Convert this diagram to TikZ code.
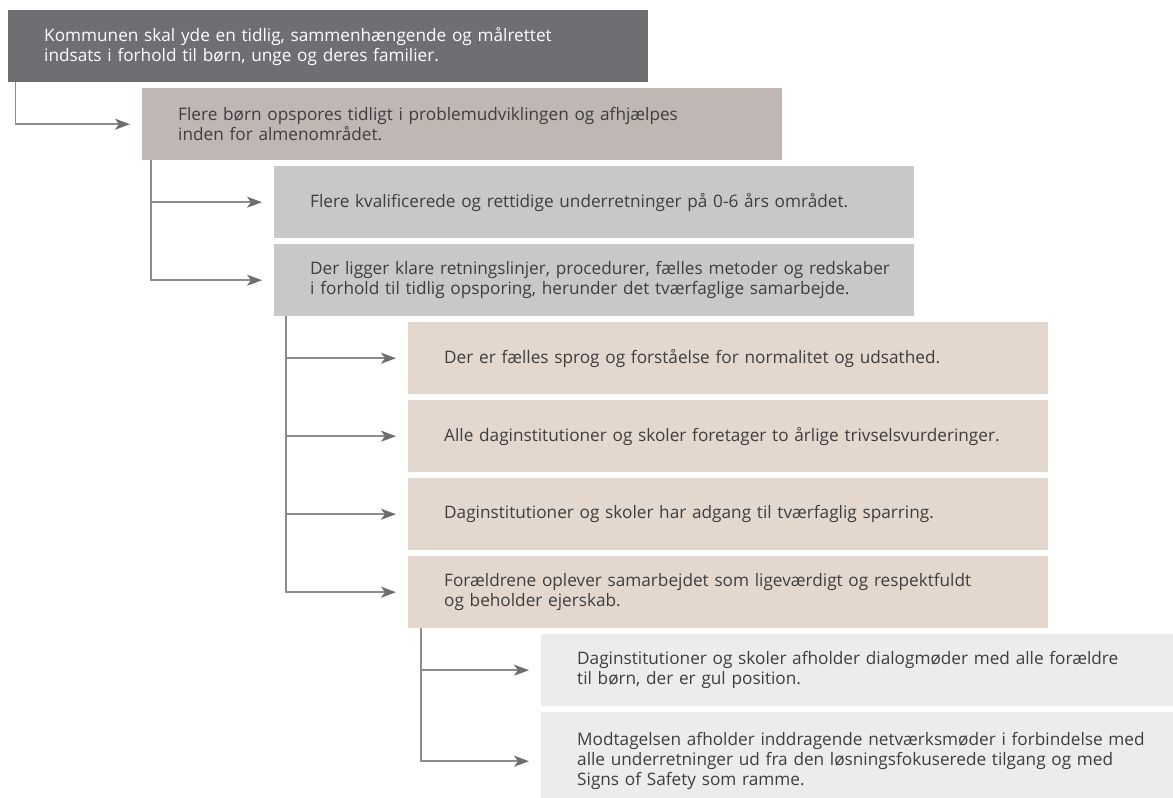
\documentclass[tikz,border=0pt]{standalone}
\usepackage{fontspec}
\setmainfont{Open Sans}
\usetikzlibrary{arrows.meta}

\definecolor{boxdark}{RGB}{111,110,115}
\definecolor{boxrose}{RGB}{192,182,179}
\definecolor{boxgray}{RGB}{200,200,202}
\definecolor{boxsand}{RGB}{227,215,206}
\definecolor{boxlight}{RGB}{236,236,238}
\definecolor{linegray}{RGB}{140,140,143}
\definecolor{tipgray}{RGB}{110,110,114}
\definecolor{textgray}{RGB}{62,62,64}

\tikzset{
  goalbox/.style={anchor=north west, minimum width=640pt, minimum height=72pt,
    text width=640pt, inner xsep=0pt, inner ysep=0pt, align=left,
    execute at begin node={\leftskip=36pt},
    font=\fontsize{17.2}{20}\selectfont, text=textgray},
  conn/.style={draw=linegray, line width=1.8pt,
    -{Stealth[length=15pt,width=11pt,inset=4pt,color=tipgray]}, shorten >=12pt}
}

\begin{document}
\begin{tikzpicture}[x=1pt,y=-1pt]
  \useasboundingbox (0,0) rectangle (1173,798);

  % overall aim
  \node[goalbox,fill=boxdark,text=white] (aim) at (8,10)
    {Kommunen skal yde en tidlig, sammenhængende og målrettet\\
     indsats i forhold til børn, unge og deres familier.};

  % level 1
  \node[goalbox,fill=boxrose] (early) at (142,88)
    {Flere børn opspores tidligt i problemudviklingen og afhjælpes\\
     inden for almenområdet.};

  % level 2
  \node[goalbox,fill=boxgray] (report) at (274,166)
    {Flere kvalificerede og rettidige underretninger på 0-6 års området.};
  \node[goalbox,fill=boxgray] (guide) at (274,244)
    {Der ligger klare retningslinjer, procedurer, fælles metoder og redskaber\\
     i forhold til tidlig opsporing, herunder det tværfaglige samarbejde.};

  % level 3
  \node[goalbox,fill=boxsand] (lang) at (408,322)
    {Der er fælles sprog og forståelse for normalitet og udsathed.};
  \node[goalbox,fill=boxsand] (wellb) at (408,400)
    {Alle daginstitutioner og skoler foretager to årlige trivselsvurderinger.};
  \node[goalbox,fill=boxsand] (spar) at (408,478)
    {Daginstitutioner og skoler har adgang til tværfaglig sparring.};
  \node[goalbox,fill=boxsand] (parent) at (408,556)
    {Forældrene oplever samarbejdet som ligeværdigt og respektfuldt\\
     og beholder ejerskab.};

  % level 4
  \node[goalbox,fill=boxlight] (dialog) at (541,634)
    {Daginstitutioner og skoler afholder dialogmøder med alle forældre\\
     til børn, der er gul position.};
  \node[goalbox,fill=boxlight,minimum height=98pt] (netw) at (541,712)
    {Modtagelsen afholder inddragende netværksmøder i forbindelse med\\
     alle underretninger ud fra den løsningsfokuserede tilgang og med\\
     Signs of Safety som ramme.};

  % connectors
  \draw[conn] ([xshift=7.5pt]aim.south west) |- (early.west);

  \draw[conn] ([xshift=9pt]early.south west) |- (report.west);
  \draw[conn] ([xshift=9pt]early.south west) |- (guide.west);

  \foreach \goal in {lang,wellb,spar,parent}
  {
       \draw[conn] ([xshift=12pt]guide.south west) |- (\goal.west);
  }

  \draw[conn] ([xshift=13pt]parent.south west) |- (dialog.west);
  \draw[conn] ([xshift=13pt]parent.south west) |- (netw.west);

\end{tikzpicture}
\end{document}
